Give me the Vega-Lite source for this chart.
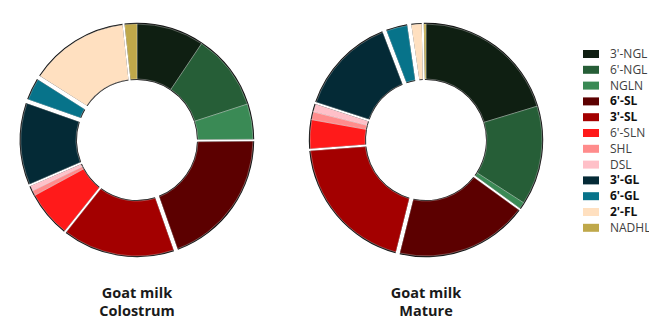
{
  "$schema": "https://vega.github.io/schema/vega-lite/v6.json",
  "background": "white",
  "padding": 5,
  "data": {
    "values": [
      {"stage": "Colostrum", "hmo": "3'-NGL", "value": 9.4},
      {"stage": "Colostrum", "hmo": "6'-NGL", "value": 10.6},
      {"stage": "Colostrum", "hmo": "NGLN", "value": 4.9},
      {"stage": "Colostrum", "hmo": "6'-SL", "value": 19.7},
      {"stage": "Colostrum", "hmo": "3'-SL", "value": 16.1},
      {"stage": "Colostrum", "hmo": "6'-SLN", "value": 6.4},
      {"stage": "Colostrum", "hmo": "SHL", "value": 0.7},
      {"stage": "Colostrum", "hmo": "DSL", "value": 0.7},
      {"stage": "Colostrum", "hmo": "3'-GL", "value": 11.9},
      {"stage": "Colostrum", "hmo": "6'-GL", "value": 3.6},
      {"stage": "Colostrum", "hmo": "2'-FL", "value": 14.3},
      {"stage": "Colostrum", "hmo": "NADHL", "value": 1.7},
      {"stage": "Mature", "hmo": "3'-NGL", "value": 20.3},
      {"stage": "Mature", "hmo": "6'-NGL", "value": 13.8},
      {"stage": "Mature", "hmo": "NGLN", "value": 0.9},
      {"stage": "Mature", "hmo": "6'-SL", "value": 18.9},
      {"stage": "Mature", "hmo": "3'-SL", "value": 19.9},
      {"stage": "Mature", "hmo": "6'-SLN", "value": 4.0},
      {"stage": "Mature", "hmo": "SHL", "value": 1.1},
      {"stage": "Mature", "hmo": "DSL", "value": 1.1},
      {"stage": "Mature", "hmo": "3'-GL", "value": 14.2},
      {"stage": "Mature", "hmo": "6'-GL", "value": 3.5},
      {"stage": "Mature", "hmo": "2'-FL", "value": 2.0},
      {"stage": "Mature", "hmo": "NADHL", "value": 0.3}
    ]
  },
  "transform": [
    {"window": [{"op": "row_number", "as": "rank"}], "groupby": ["stage"]}
  ],
  "facet": {
    "column": {
      "field": "stage",
      "type": "nominal",
      "header": {
        "title": null,
        "labelOrient": "bottom",
        "labelExpr": "['Goat milk', datum.value]",
        "labelFont": "Open Sans",
        "labelFontWeight": "bold",
        "labelFontSize": 14.5,
        "labelColor": "#1a1a1a",
        "labelLineHeight": 18,
        "labelPadding": 12
      }
    }
  },
  "spacing": 25,
  "spec": {
    "width": 264,
    "height": 270,
    "encoding": {
      "theta": {"field": "value", "type": "quantitative", "stack": true, "scale": {"domain": [0, 100]}},
      "order": {"field": "rank", "type": "quantitative"}
    },
    "layer": [
      {
        "mark": {
          "type": "arc",
          "innerRadius": 60,
          "outerRadius": 117.2,
          "color": "#111111",
          "padAngle": {"expr": "indexof([\"6'-SL\", \"3'-SL\", \"3'-GL\", \"6'-GL\", \"2'-FL\"], datum.hmo) >= 0 ? 0.032 : 0"}
        }
      },
      {
        "mark": {
          "type": "arc",
          "innerRadius": 61,
          "outerRadius": 116,
          "stroke": "white",
          "strokeWidth": 0.6,
          "strokeOpacity": 0.5,
          "padAngle": {"expr": "indexof([\"6'-SL\", \"3'-SL\", \"3'-GL\", \"6'-GL\", \"2'-FL\"], datum.hmo) >= 0 ? 0.032 : 0"}
        },
        "encoding": {
          "color": {
            "field": "hmo",
            "type": "nominal",
            "scale": {
              "domain": ["3'-NGL", "6'-NGL", "NGLN", "6'-SL", "3'-SL", "6'-SLN", "SHL", "DSL", "3'-GL", "6'-GL", "2'-FL", "NADHL"],
              "range": ["#0f1f12", "#265e37", "#3a8a55", "#5c0000", "#a30000", "#ff1a1a", "#ff8c8c", "#ffc0c8", "#042a36", "#07738a", "#ffe0c0", "#bfa84a"]
            },
            "legend": {
              "title": null,
              "orient": "none",
              "legendX": 578,
              "legendY": 41,
              "padding": 0,
              "symbolType": "M-1,-0.5H1V0.5H-1Z",
              "symbolSize": 256,
              "symbolStrokeWidth": 0,
              "rowPadding": 1.8,
              "labelOffset": 11,
              "labelFont": "Open Sans",
              "labelFontSize": 12,
              "labelLimit": 60,
              "labelColor": {"expr": "indexof([\"6'-SL\", \"3'-SL\", \"3'-GL\", \"6'-GL\", \"2'-FL\"], datum.label) >= 0 ? '#111111' : '#404040'"},
              "labelFontWeight": {"expr": "indexof([\"6'-SL\", \"3'-SL\", \"3'-GL\", \"6'-GL\", \"2'-FL\"], datum.label) >= 0 ? 'bold' : 'normal'"}
            }
          }
        }
      }
    ]
  },
  "config": {
    "view": {"stroke": null}
  }
}
